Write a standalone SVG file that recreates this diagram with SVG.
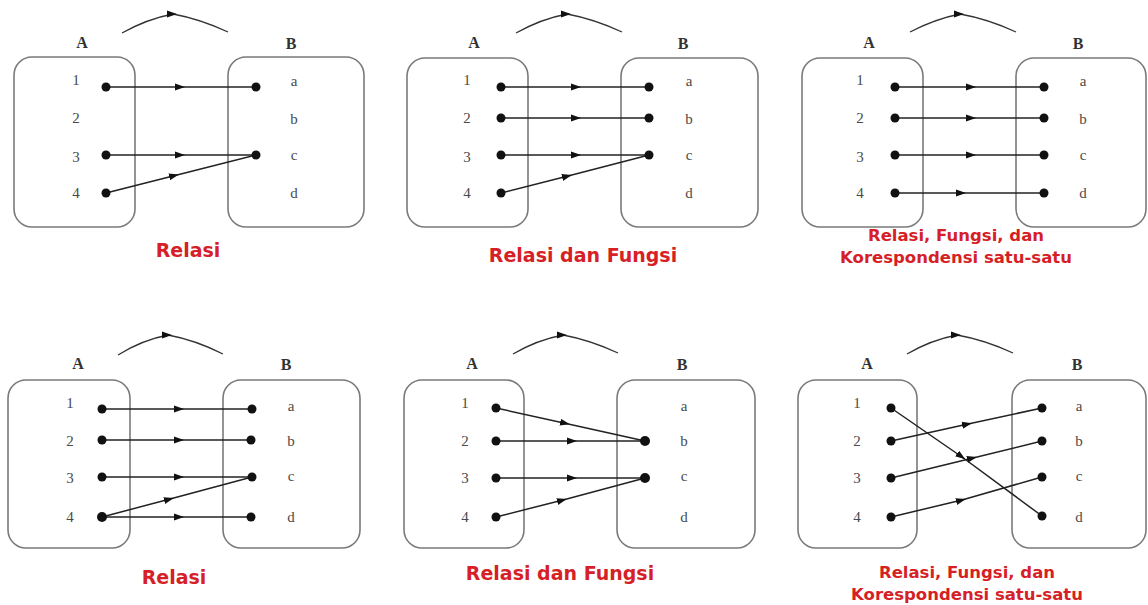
<svg xmlns="http://www.w3.org/2000/svg" width="1148" height="605" viewBox="0 0 1148 605">
<style>
.box{fill:none;stroke:#7a7a7a;stroke-width:1.6}
.ln{fill:none;stroke:#222;stroke-width:1.5;marker-mid:url(#arr)}
.arc{fill:none;stroke:#333;stroke-width:1.3;marker-mid:url(#arr)}
.dot{fill:#111}
.set{font-family:"Liberation Serif",serif;font-weight:bold;font-size:16px;fill:#333;text-anchor:middle}
.el{font-family:"Liberation Serif",serif;font-size:15px;fill:#4a4a4a;text-anchor:middle}
.cap{font-family:"DejaVu Sans",Verdana,sans-serif;font-weight:bold;font-size:19px;fill:#d61f26;text-anchor:middle}
.cap2{font-family:"DejaVu Sans",Verdana,sans-serif;font-weight:bold;font-size:16.5px;fill:#d61f26;text-anchor:middle}
</style>
<defs>
<marker id="arr" viewBox="0 0 10 10" refX="6" refY="5" markerWidth="10" markerHeight="10" markerUnits="userSpaceOnUse" orient="auto"><path d="M0,1.5 L10,5 L0,8.5 z" fill="#111"/></marker>
</defs>
<rect width="1148" height="605" fill="#fff"/>

<!-- Panel 1 -->
<g id="panel1">
<path class="arc" d="M122,33 Q147,19 173,14 Q200,19 228,32"/>
<g id="p1-setA">
<text class="set" x="82" y="48">A</text>
<rect class="box" x="14" y="57" width="121" height="170" rx="18"/>
<text class="el" x="76" y="85">1</text><text class="el" x="76" y="123">2</text><text class="el" x="76" y="162">3</text><text class="el" x="76" y="198">4</text>
</g>
<g id="p1-setB">
<text class="set" x="291" y="49">B</text>
<rect class="box" x="228" y="57" width="136" height="170" rx="18"/>
<text class="el" x="294" y="86">a</text><text class="el" x="294" y="124">b</text><text class="el" x="294" y="160">c</text><text class="el" x="294" y="198">d</text>
</g>
<g id="p1-connectors">
<path class="ln" d="M106,87 L181,87 L256,87"/>
<path class="ln" d="M106,155 L181,155 L256,155"/>
<path class="ln" d="M106,193 L175,175.5 L256,155"/>
<circle class="dot" cx="106" cy="87" r="4.5"/><circle class="dot" cx="106" cy="155" r="4.5"/><circle class="dot" cx="106" cy="193" r="4.5"/>
<circle class="dot" cx="256" cy="87" r="4.5"/><circle class="dot" cx="256" cy="155" r="4.5"/>
</g>
<text class="cap" x="188" y="257">Relasi</text>
</g>

<!-- Panel 2 -->
<g id="panel2">
<path class="arc" d="M516,33 Q541,19 567,14 Q594,19 622,32"/>
<g id="p2-setA">
<text class="set" x="474" y="48">A</text>
<rect class="box" x="407" y="58" width="121" height="169" rx="18"/>
<text class="el" x="467" y="85">1</text><text class="el" x="467" y="123">2</text><text class="el" x="467" y="162">3</text><text class="el" x="467" y="198">4</text>
</g>
<g id="p2-setB">
<text class="set" x="683" y="49">B</text>
<rect class="box" x="621" y="58" width="137" height="169" rx="18"/>
<text class="el" x="689" y="86">a</text><text class="el" x="689" y="124">b</text><text class="el" x="689" y="160">c</text><text class="el" x="689" y="198">d</text>
</g>
<g id="p2-connectors">
<path class="ln" d="M501,87 L577,87 L649,87"/>
<path class="ln" d="M501,118 L577,118 L649,118"/>
<path class="ln" d="M501,155 L577,155 L649,155"/>
<path class="ln" d="M501,193 L568,176 L649,155"/>
<circle class="dot" cx="501" cy="87" r="4.5"/><circle class="dot" cx="501" cy="118" r="4.5"/><circle class="dot" cx="501" cy="155" r="4.5"/><circle class="dot" cx="501" cy="193" r="4.5"/>
<circle class="dot" cx="649" cy="87" r="4.5"/><circle class="dot" cx="649" cy="118" r="4.5"/><circle class="dot" cx="649" cy="155" r="4.5"/>
</g>
<text class="cap" x="583" y="262">Relasi dan Fungsi</text>
</g>

<!-- Panel 3 -->
<g id="panel3">
<path class="arc" d="M910,32 Q935,19 960,14 Q988,19 1016,32"/>
<g id="p3-setA">
<text class="set" x="869" y="48">A</text>
<rect class="box" x="802" y="58" width="121" height="169" rx="18"/>
<text class="el" x="860" y="85">1</text><text class="el" x="860" y="123">2</text><text class="el" x="860" y="162">3</text><text class="el" x="860" y="198">4</text>
</g>
<g id="p3-setB">
<text class="set" x="1078" y="49">B</text>
<rect class="box" x="1016" y="58" width="130" height="169" rx="18"/>
<text class="el" x="1083" y="86">a</text><text class="el" x="1083" y="124">b</text><text class="el" x="1083" y="160">c</text><text class="el" x="1083" y="198">d</text>
</g>
<g id="p3-connectors">
<path class="ln" d="M895,87 L972,87 L1044,87"/>
<path class="ln" d="M895,118 L972,118 L1044,118"/>
<path class="ln" d="M895,155 L972,155 L1044,155"/>
<path class="ln" d="M895,193 L962,193 L1044,193"/>
<circle class="dot" cx="895" cy="87" r="4.5"/><circle class="dot" cx="895" cy="118" r="4.5"/><circle class="dot" cx="895" cy="155" r="4.5"/><circle class="dot" cx="895" cy="193" r="4.5"/>
<circle class="dot" cx="1044" cy="87" r="4.5"/><circle class="dot" cx="1044" cy="118" r="4.5"/><circle class="dot" cx="1044" cy="155" r="4.5"/><circle class="dot" cx="1044" cy="193" r="4.5"/>
</g>
<text class="cap2" x="956" y="241">Relasi, Fungsi, dan</text>
<text class="cap2" x="956" y="263">Korespondensi satu-satu</text>
</g>

<!-- Panel 4 -->
<g id="panel4">
<path class="arc" d="M118,355 Q142,340 168,335 Q195,340 223,354"/>
<g id="p4-setA">
<text class="set" x="78" y="369">A</text>
<rect class="box" x="8" y="380" width="122" height="168" rx="18"/>
<text class="el" x="70" y="408">1</text><text class="el" x="70" y="446">2</text><text class="el" x="70" y="483">3</text><text class="el" x="70" y="522">4</text>
</g>
<g id="p4-setB">
<text class="set" x="286" y="370">B</text>
<rect class="box" x="223" y="380" width="137" height="168" rx="18"/>
<text class="el" x="291" y="411">a</text><text class="el" x="291" y="446">b</text><text class="el" x="291" y="481">c</text><text class="el" x="291" y="522">d</text>
</g>
<g id="p4-connectors">
<path class="ln" d="M102,409 L180,409 L252,409"/>
<path class="ln" d="M102,440 L180,440 L252,440"/>
<path class="ln" d="M102,477 L180,477 L252,477"/>
<path class="ln" d="M102,517 L170,499 L252,477"/>
<path class="ln" d="M102,517 L180,517 L252,517"/>
<circle class="dot" cx="102" cy="409" r="4.5"/><circle class="dot" cx="102" cy="440" r="4.5"/><circle class="dot" cx="102" cy="477" r="4.5"/><circle class="dot" cx="102" cy="517" r="5"/>
<circle class="dot" cx="252" cy="409" r="4.5"/><circle class="dot" cx="251" cy="440" r="4.5"/><circle class="dot" cx="252" cy="477" r="4.5"/><circle class="dot" cx="251" cy="517" r="4.5"/>
</g>
<text class="cap" x="174" y="584">Relasi</text>
</g>

<!-- Panel 5 -->
<g id="panel5">
<path class="arc" d="M513,354 Q537,340 563,335 Q590,340 618,353"/>
<g id="p5-setA">
<text class="set" x="472" y="369">A</text>
<rect class="box" x="404" y="380" width="120" height="168" rx="18"/>
<text class="el" x="465" y="408">1</text><text class="el" x="465" y="446">2</text><text class="el" x="465" y="483">3</text><text class="el" x="465" y="522">4</text>
</g>
<g id="p5-setB">
<text class="set" x="682" y="370">B</text>
<rect class="box" x="617" y="380" width="138" height="168" rx="18"/>
<text class="el" x="684" y="411">a</text><text class="el" x="684" y="446">b</text><text class="el" x="684" y="481">c</text><text class="el" x="684" y="522">d</text>
</g>
<g id="p5-connectors">
<path class="ln" d="M496,408 L566,423.5 L645,441"/>
<path class="ln" d="M496,441 L573,441 L645,441"/>
<path class="ln" d="M496,478 L573,478 L645,478"/>
<path class="ln" d="M496,517 L563,500 L645,478"/>
<circle class="dot" cx="496" cy="408" r="4.5"/><circle class="dot" cx="496" cy="441" r="4.5"/><circle class="dot" cx="496" cy="478" r="4.5"/><circle class="dot" cx="496" cy="517" r="4.5"/>
<circle class="dot" cx="645" cy="441" r="5"/><circle class="dot" cx="645" cy="478" r="5"/>
</g>
<text class="cap" x="560" y="580">Relasi dan Fungsi</text>
</g>

<!-- Panel 6 -->
<g id="panel6">
<path class="arc" d="M907,354 Q931,340 957,335 Q985,340 1013,353"/>
<g id="p6-setA">
<text class="set" x="867" y="369">A</text>
<rect class="box" x="798" y="380" width="119" height="168" rx="18"/>
<text class="el" x="857" y="408">1</text><text class="el" x="857" y="446">2</text><text class="el" x="857" y="483">3</text><text class="el" x="857" y="522">4</text>
</g>
<g id="p6-setB">
<text class="set" x="1077" y="370">B</text>
<rect class="box" x="1012" y="380" width="134" height="168" rx="18"/>
<text class="el" x="1079" y="411">a</text><text class="el" x="1079" y="446">b</text><text class="el" x="1079" y="481">c</text><text class="el" x="1079" y="522">d</text>
</g>
<g id="p6-connectors">
<path class="ln" d="M891,408 L962,457 L1042,516"/>
<path class="ln" d="M891,441 L968,424 L1042,408"/>
<path class="ln" d="M891,478 L973,458 L1042,441"/>
<path class="ln" d="M891,517 L962,500 L1042,477"/>
<circle class="dot" cx="891" cy="408" r="4.5"/><circle class="dot" cx="891" cy="441" r="4.5"/><circle class="dot" cx="891" cy="478" r="4.5"/><circle class="dot" cx="891" cy="517" r="4.5"/>
<circle class="dot" cx="1042" cy="408" r="4.5"/><circle class="dot" cx="1042" cy="441" r="4.5"/><circle class="dot" cx="1042" cy="477" r="4.5"/><circle class="dot" cx="1042" cy="516" r="4.5"/>
</g>
<text class="cap2" x="967" y="578">Relasi, Fungsi, dan</text>
<text class="cap2" x="967" y="600">Korespondensi satu-satu</text>
</g>
</svg>
